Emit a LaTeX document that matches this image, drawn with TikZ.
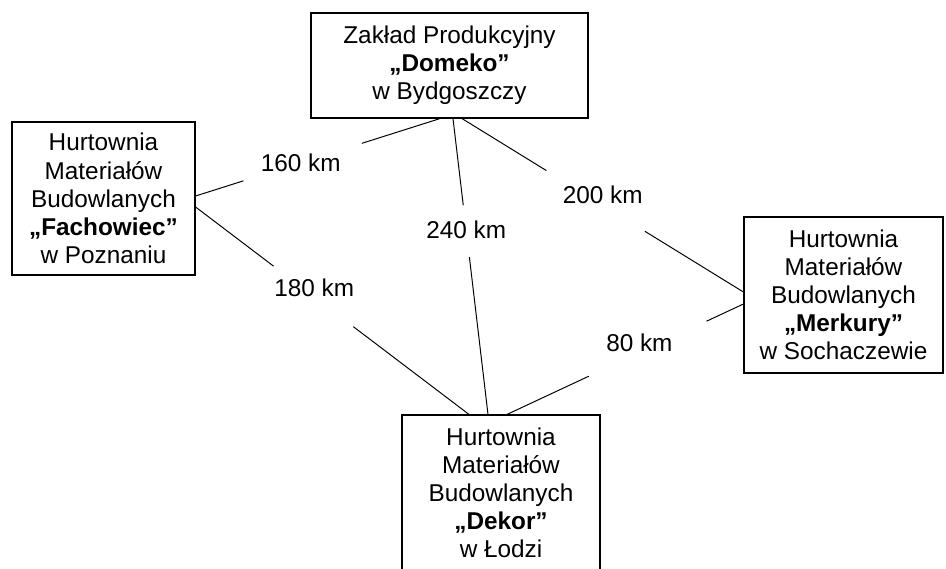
\documentclass[tikz,border=0pt]{standalone}
\usepackage{fontspec}
\setmainfont{Liberation Sans}
\usetikzlibrary{calc}

\tikzset{
  firma/.style={draw,line width=0.8pt,align=center,inner sep=0pt,font=\fontsize{17.3}{20}\selectfont},
  km/.style={font=\fontsize{17.3}{20}\selectfont,inner sep=0pt},
  trasa/.style={line width=0.7pt}
}

\begin{document}
\begin{tikzpicture}[x=0.025cm,y=-0.025cm]
		\useasboundingbox (0,0) rectangle (946,569);
		\clip (0,0) rectangle (946,569);
		% firmy
		\node[firma,minimum width=6.925cm,minimum height=2.625cm] (domeko) at (449.5,65.5)
			{Zakład Produkcyjny\\\textbf{„Domeko”}\\w Bydgoszczy};
		\node[firma,minimum width=4.575cm,minimum height=3.825cm] (fachowiec) at (103.5,198.5)
			{Hurtownia\\Materiałów\\Budowlanych\\\textbf{„Fachowiec”}\\w Poznaniu};
		\node[firma,minimum width=4.975cm,minimum height=3.9cm] (merkury) at (843.5,295)
			{Hurtownia\\Materiałów\\Budowlanych\\\textbf{„Merkury”}\\w Sochaczewie};
		\node[firma,minimum width=4.95cm,minimum height=3.9cm] (dekor) at (501,493)
			{Hurtownia\\Materiałów\\Budowlanych\\\textbf{„Dekor”}\\w Łodzi};
		% trasy
		\coordinate (f1) at ($(fachowiec.east)+(0,-2.5)$);
		\coordinate (d1) at ($(domeko.south)+(-9.5,0)$);
		\draw[trasa] (f1) -- ($(f1)!0.196!(d1)$) ($(f1)!0.68!(d1)$) -- (d1);
		\node[km] (km160) at ($(f1)!0.43!(d1)$) {160 km};
		\coordinate (d2) at ($(domeko.south)+(3.5,0)$);
		\coordinate (l2) at ($(dekor.north)+(-13,0)$);
		\draw[trasa] (d2) -- ($(d2)!0.293!(l2)$) ($(d2)!0.468!(l2)$) -- (l2);
		\node[km] (km240) at ($(d2)!0.377!(l2)$) {240 km};
		\coordinate (d3) at ($(domeko.south)+(12.5,0)$);
		\coordinate (m3) at ($(merkury.west)+(0,-3)$);
		\draw[trasa] (d3) -- ($(d3)!0.30!(m3)$) ($(d3)!0.65!(m3)$) -- (m3);
		\node[km] (km200) at ($(d3)!0.5!(m3)+(0,-10)$) {200 km};
		\coordinate (f4) at ($(fachowiec.east)+(0,8.5)$);
		\coordinate (l4) at ($(dekor.north)+(-32,0)$);
		\draw[trasa] (f4) -- ($(f4)!0.285!(l4)$) ($(f4)!0.577!(l4)$) -- (l4);
		\node[km] (km180) at ($(f4)!0.434!(l4)+(0,-9)$) {180 km};
		\coordinate (m5) at ($(merkury.west)+(0,9)$);
		\coordinate (l5) at ($(dekor.north)+(6,0)$);
		\draw[trasa] (m5) -- ($(m5)!0.156!(l5)$) ($(m5)!0.654!(l5)$) -- (l5);
		\node[km] (km80) at ($(m5)!0.44!(l5)+(0,-10)$) {80 km};
	\end{tikzpicture}
\end{document}
